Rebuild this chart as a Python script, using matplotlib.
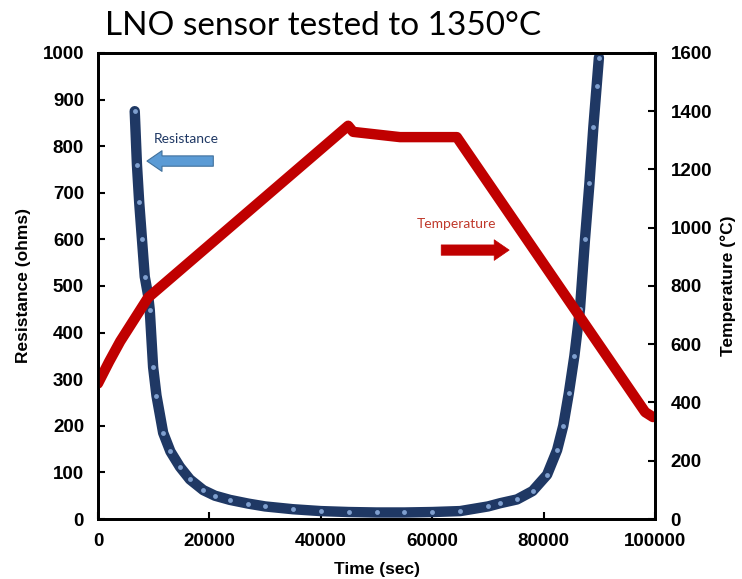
import matplotlib
matplotlib.use('Agg')
import matplotlib.pyplot as plt

font = {'family': 'Liberation Sans',
        'size': 13.5,
        'weight': 'bold'
        }
matplotlib.rc('font', **font)

# resistance readings (sec, ohms)
res_time = [6600, 7000, 7400, 7900, 8400, 9000, 9300, 9900, 10500, 11700,
            13000, 14700, 16500, 18900, 21000, 23700, 27000, 30000, 35000, 40000,
            45000, 50000, 55000, 60000, 65000, 70000, 72200, 75200, 78000, 80600,
            82400, 83500, 84500, 85500, 86500, 87400, 88200, 88900, 89500, 89900]
res_ohms = [875, 760, 680, 600, 520, 480, 448, 326, 265, 185,
            145, 112, 85, 62, 50, 41, 33, 27, 21, 17,
            15, 14, 14, 15, 17, 27, 34, 42, 60, 95,
            148, 200, 270, 350, 450, 600, 720, 840, 930, 990]

# furnace temperature (sec, degC)
temp_time = [0, 2000, 4000, 6000, 8000, 9000, 44900, 45800, 54200, 64400, 98200, 99600]
temp_degc = [465, 540, 610, 670, 730, 760, 1350, 1329, 1311, 1311, 367, 350]

x_ticks = [0, 20000, 40000, 60000, 80000, 100000]
left_ticks = list(range(0, 1001, 100))
right_ticks = list(range(0, 1601, 200))

navy = '#1f3864'
light = '#7f9fcf'
red = '#c00000'

fig = plt.figure(figsize=(7.42, 5.79), dpi=100)
ax = fig.add_axes([0.132, 0.1036, 0.751, 0.805])

ax.plot(res_time, res_ohms, '-', color=navy, lw=7.5, solid_capstyle='round', zorder=2)
ax.plot(res_time, res_ohms, 'o', mfc=light, mec='none', ms=3.5, zorder=3)

ax.set_xlim(0, 100000)
ax.set_ylim(0, 1000)
ax.set_xticks(x_ticks)
ax.set_yticks(left_ticks)
ax.tick_params(direction='in', length=5, width=1.5, pad=10)
ax.set_xlabel('Time (sec)', fontsize=12.5, fontweight='bold', labelpad=9)
ax.set_ylabel('Resistance (ohms)', fontsize=12.5, fontweight='bold', labelpad=8)

ax2 = ax.twinx()
ax2.plot(temp_time, temp_degc, '-', color=red, lw=7.5, solid_capstyle='round',
         solid_joinstyle='round')
ax2.set_ylim(0, 1600)
ax2.set_yticks(right_ticks)
ax2.tick_params(direction='in', length=5, width=1.5, pad=11)
ax2.set_ylabel('Temperature (°C)', fontsize=12.5, fontweight='bold', labelpad=6)

for a in (ax, ax2):
    for s in a.spines.values():
        s.set_linewidth(2)
        s.set_color('black')

# annotations
ax.text(0.158, 0.815, 'Resistance', transform=ax.transAxes, ha='center', va='center',
        fontsize=10, fontweight='normal', family='Lato', color=navy)
ax.annotate('', xy=(0.088, 0.768), xytext=(0.207, 0.768),
            xycoords='axes fraction', textcoords='axes fraction',
            arrowprops=dict(arrowstyle='simple,head_width=1.1,head_length=0.8,tail_width=0.55',
                            fc='#5b9bd5', ec='#41719c', lw=0.8, shrinkA=0, shrinkB=0))
ax.text(0.643, 0.633, 'Temperature', transform=ax.transAxes, ha='center', va='center',
        fontsize=10, fontweight='normal', family='Lato', color='#c0392b')
ax.annotate('', xy=(0.738, 0.577), xytext=(0.616, 0.577),
            xycoords='axes fraction', textcoords='axes fraction',
            arrowprops=dict(arrowstyle='simple,head_width=1.1,head_length=0.8,tail_width=0.55',
                            fc=red, ec=red, lw=0.5, shrinkA=0, shrinkB=0))

fig.text(0.436, 0.955, 'LNO sensor tested to 1350°C', ha='center', va='center',
         fontsize=24, fontweight='normal', family='Lato')

fig.savefig('out.png', dpi=100)
